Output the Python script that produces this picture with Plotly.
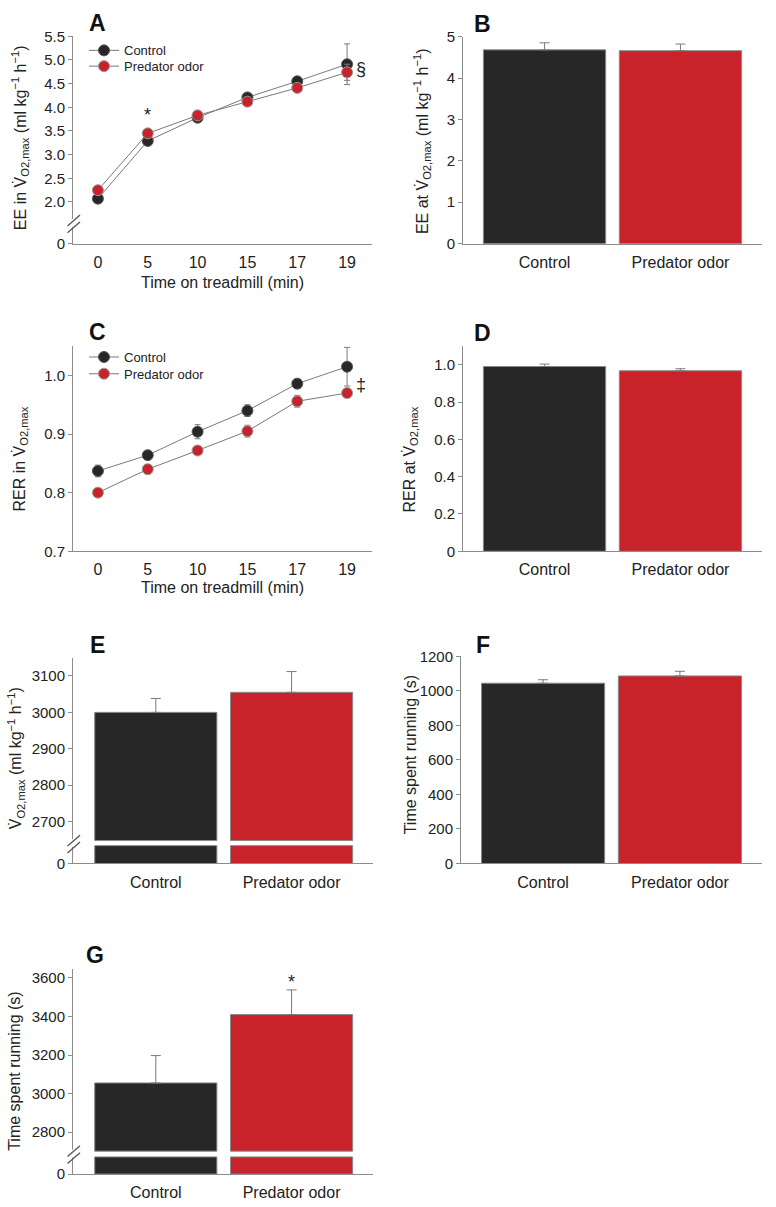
import plotly.graph_objects as go

W, H = 776, 1207

# ---------------- data ----------------
times = ["0", "5", "10", "15", "17", "19"]

ee_control = [2.07, 3.29, 3.78, 4.21, 4.55, 4.91]
ee_control_err = [0.04, 0.05, 0.04, 0.04, 0.05, 0.43]
ee_pred = [2.25, 3.45, 3.83, 4.12, 4.41, 4.74]
ee_pred_err = [0.04, 0.05, 0.04, 0.05, 0.06, 0.17]

rer_control = [0.837, 0.864, 0.904, 0.940, 0.986, 1.015]
rer_control_err = [0.010, 0.005, 0.012, 0.010, 0.008, 0.033]
rer_pred = [0.800, 0.840, 0.872, 0.905, 0.956, 0.970]
rer_pred_err = [0.005, 0.008, 0.006, 0.010, 0.010, 0.006]

groups = ["Control", "Predator odor"]
ee_max = [4.68, 4.66]
ee_max_err = [0.17, 0.16]
rer_max = [0.991, 0.968]
rer_max_err = [0.013, 0.011]
vo2max = [3000, 3055]
vo2max_err = [38, 57]
run_time_f = [1045, 1087]
run_time_f_err = [20, 27]
run_time_g = [3055, 3410]
run_time_g_err = [142, 128]

ee_ticks = ["0", "2.0", "2.5", "3.0", "3.5", "4.0", "4.5", "5.0", "5.5"]
vo2_ticks = ["0", "2700", "2800", "2900", "3000", "3100"]
g_ticks = ["0", "2800", "3000", "3200", "3400", "3600"]

# ---------------- styling ----------------
FONT = "Arial, 'Liberation Sans', sans-serif"
BLACK = "#282728"
RED = "#c8222a"
AXC = "#8c8c8c"
ERRC = "#7a7a7a"
LINEC = "#7a7a7a"
OUTC = "#8a8a8a"
TXT = "#222222"

# axis breaks (in value units)
A_MIN = 1.12
E_MIN, E_LO, E_HI = 2585, 2634, 2648
G_MIN, G_LO, G_HI = 2582, 2671, 2701


def px(x):
    return x / W


def py(y):
    return 1 - y / H


fig = go.Figure()

MK_C = dict(size=11, color=BLACK, line=dict(color="#555555", width=1))
MK_P = dict(size=11, color=RED, line=dict(color="#999999", width=1))
LN = dict(color=LINEC, width=1)


def line_pair(yc, ycerr, yp, yperr, xa, ya, leg_c, leg_p):
    fig.add_trace(go.Scatter(
        x=times, y=yc, mode="lines+markers", line=LN, marker=MK_C,
        error_y=dict(type="data", array=ycerr, color=ERRC, thickness=1, width=3),
        xaxis=xa, yaxis=ya, showlegend=False))
    fig.add_trace(go.Scatter(
        x=times, y=yp, mode="lines+markers", line=LN, marker=MK_P,
        error_y=dict(type="data", array=yperr, color=ERRC, thickness=1, width=3),
        xaxis=xa, yaxis=ya, showlegend=False))
    # legend entries (no data of their own)
    fig.add_trace(go.Scatter(x=[None], y=[None], mode="lines+markers", name="Control",
                             line=LN, marker=MK_C, xaxis=xa, yaxis=ya, legend=leg_c))
    fig.add_trace(go.Scatter(x=[None], y=[None], mode="lines+markers", name="Predator odor",
                             line=LN, marker=MK_P, xaxis=xa, yaxis=ya, legend=leg_p))


line_pair(ee_control, ee_control_err, ee_pred, ee_pred_err, "x", "y", "legend", "legend2")
line_pair(rer_control, rer_control_err, rer_pred, rer_pred_err, "x3", "y3", "legend3", "legend4")


def err(arr, w=5):
    return dict(type="data", array=arr, arrayminus=[0] * len(arr), symmetric=False,
                color=ERRC, thickness=1, width=w)


bar_marker = dict(color=[BLACK, RED], line=dict(color=OUTC, width=1))

# ---- B, D, F (simple bars) ----
for vals, errs, xa, ya in [(ee_max, ee_max_err, "x2", "y2"),
                           (rer_max, rer_max_err, "x4", "y4"),
                           (run_time_f, run_time_f_err, "x6", "y6")]:
    fig.add_trace(go.Bar(x=groups, y=vals, width=0.9, marker=bar_marker,
                         error_y=err(errs), xaxis=xa, yaxis=ya, showlegend=False))

# ---- E, G (broken bars) ----
for vals, errs, ymin, lo, hi, xa, ya in [(vo2max, vo2max_err, E_MIN, E_LO, E_HI, "x5", "y5"),
                                         (run_time_g, run_time_g_err, G_MIN, G_LO, G_HI, "x7", "y7")]:
    fig.add_trace(go.Bar(x=groups, y=[lo - ymin] * len(groups), base=ymin, width=0.9,
                         marker=bar_marker, xaxis=xa, yaxis=ya, showlegend=False,
                         hoverinfo="skip"))
    fig.add_trace(go.Bar(x=groups, y=[v - hi for v in vals], base=hi, width=0.9,
                         marker=bar_marker, error_y=err(errs), xaxis=xa, yaxis=ya,
                         showlegend=False))

AX = dict(showline=True, linecolor=AXC, linewidth=1, showgrid=False, zeroline=False,
          ticks="outside", ticklen=4, tickcolor=AXC,
          tickfont=dict(size=15, color=TXT, family=FONT))
XCAT = dict(showline=True, linecolor=AXC, linewidth=1, showgrid=False, zeroline=False,
            ticks="", ticklabelstandoff=4, type="category",
            tickfont=dict(size=16, color=TXT, family=FONT))

layout_axes = {}


def set_panel(n, xr, yr, xextra, yextra):
    xs = "" if n == 1 else str(n)
    layout_axes["xaxis" + xs] = dict(domain=[px(xr[0]), px(xr[1])], anchor="y" + xs, **xextra)
    layout_axes["yaxis" + xs] = dict(domain=[py(yr[1]), py(yr[0])], anchor="x" + xs, **yextra)


set_panel(1, (73, 372), (27.7, 238), dict(XCAT, range=[-0.5, 5.5]),
          dict(AX, range=[A_MIN, 5.5],
               tickvals=[A_MIN, 2.0, 2.5, 3.0, 3.5, 4.0, 4.5, 5.0, 5.5], ticktext=ee_ticks))
set_panel(2, (463, 762), (28, 238), dict(XCAT, range=[-0.6, 1.6]),
          dict(AX, range=[0, 5], dtick=1))
set_panel(3, (73, 372), (342, 550), dict(XCAT, range=[-0.5, 5.5]),
          dict(AX, range=[0.7, 1.05], tickvals=[0.7, 0.8, 0.9, 1.0], tickformat=".1f"))
set_panel(4, (463, 762), (342, 550), dict(XCAT, range=[-0.6, 1.6]),
          dict(AX, range=[0, 1.1], tickvals=[0, 0.2, 0.4, 0.6, 0.8, 1.0],
               ticktext=["0", "0.2", "0.4", "0.6", "0.8", "1.0"]))
set_panel(5, (73, 373), (658, 866.7), dict(XCAT, range=[-0.61, 1.6]),
          dict(AX, range=[E_MIN, 3150], tickvals=[E_MIN, 2700, 2800, 2900, 3000, 3100],
               ticktext=vo2_ticks))
set_panel(6, (461, 762), (656.7, 866.7), dict(XCAT, range=[-0.6, 1.6]),
          dict(AX, range=[0, 1200], dtick=200))
set_panel(7, (73, 373), (974, 1181.7), dict(XCAT, range=[-0.61, 1.6]),
          dict(AX, range=[G_MIN, 3645], tickvals=[G_MIN, 2800, 3000, 3200, 3400, 3600],
               ticktext=g_ticks))

# ---- annotations ----
ann = []


def label(t, x, y, size=23):
    ann.append(dict(text="<b>%s</b>" % t, x=px(x), y=py(y), xref="paper", yref="paper",
                    showarrow=False, font=dict(size=size, color="#111", family=FONT),
                    xanchor="center", yanchor="middle"))


for t, x, y in [("A", 97, 14), ("B", 482, 15), ("C", 97, 328), ("D", 482, 329),
                ("E", 97, 645), ("F", 483, 645), ("G", 95, 960)]:
    label(t, x, y)


def title(t, x, y, angle=-90, size=16):
    ann.append(dict(text=t, x=px(x), y=py(y), xref="paper", yref="paper", showarrow=False,
                    textangle=angle, font=dict(size=size, color=TXT, family=FONT),
                    xanchor="center", yanchor="middle"))


VDOT = "V\u0307"
unit = "(ml kg<sup>\u22121</sup> h<sup>\u22121</sup>)"
title("EE in " + VDOT + "<sub>O2,max</sub> " + unit, 20, 131)
title("EE at " + VDOT + "<sub>O2,max</sub> " + unit, 422, 134)
title("RER in " + VDOT + "<sub>O2,max</sub>", 20, 457)
title("RER at " + VDOT + "<sub>O2,max</sub>", 410, 457)
title(VDOT + "<sub>O2,max</sub> " + unit, 16, 760)
title("Time spent running (s)", 410, 757)
title("Time spent running (s)", 15, 1078)
title("Time on treadmill (min)", 223, 277, angle=0)
title("Time on treadmill (min)", 223, 587, angle=0)

sym_font = dict(size=18, color=TXT, family=FONT)
# x positions on category axes are given as category indices
ann.append(dict(text="*", x=1, y=3.83, xref="x", yref="y", showarrow=False, font=sym_font))
ann.append(dict(text="\u00a7", x=5, y=4.81, xref="x", yref="y", showarrow=False,
                xshift=14, font=sym_font))
ann.append(dict(text="\u2021", x=5, y=0.983, xref="x3", yref="y3", showarrow=False,
                xshift=14, font=sym_font))
ann.append(dict(text="*", x=1, y=3580, xref="x7", yref="y7", showarrow=False,
                font=sym_font))

# ---- axis break marks ----
shapes = []


def brk(ax_x, y_top, y_bot):
    shapes.append(dict(type="rect", xref="paper", yref="paper",
                       x0=px(ax_x - 2), x1=px(ax_x + 2), y0=py(y_bot - 3), y1=py(y_top + 3),
                       line=dict(width=0), fillcolor="white", layer="above"))
    for dy in (0, 7):
        shapes.append(dict(type="line", xref="paper", yref="paper",
                           x0=px(ax_x - 6), y0=py(y_top + 10 + dy),
                           x1=px(ax_x + 6.5), y1=py(y_top - 1 + dy),
                           line=dict(color="#555555", width=1.3), layer="above"))


brk(73.5, 210, 224)
brk(73.5, 839, 853)
brk(73.5, 1154, 1168)

legend_common = dict(font=dict(size=13, color=TXT, family=FONT), bgcolor="rgba(0,0,0,0)",
                     xanchor="left", yanchor="middle", borderwidth=0, tracegroupgap=0)

LEG_X = 84
fig.update_layout(
    width=W, height=H, margin=dict(l=0, r=0, t=0, b=0),
    paper_bgcolor="white", plot_bgcolor="white",
    barmode="overlay", showlegend=True,
    font=dict(family=FONT, color=TXT),
    legend=dict(legend_common, x=px(LEG_X), y=py(42)),
    legend2=dict(legend_common, x=px(LEG_X), y=py(58)),
    legend3=dict(legend_common, x=px(LEG_X), y=py(353)),
    legend4=dict(legend_common, x=px(LEG_X), y=py(370)),
    annotations=ann, shapes=shapes,
    **layout_axes)

fig.write_html("out.html", config={"displayModeBar": False},
               post_script="document.body.style.margin='0';document.body.style.padding='0';")
